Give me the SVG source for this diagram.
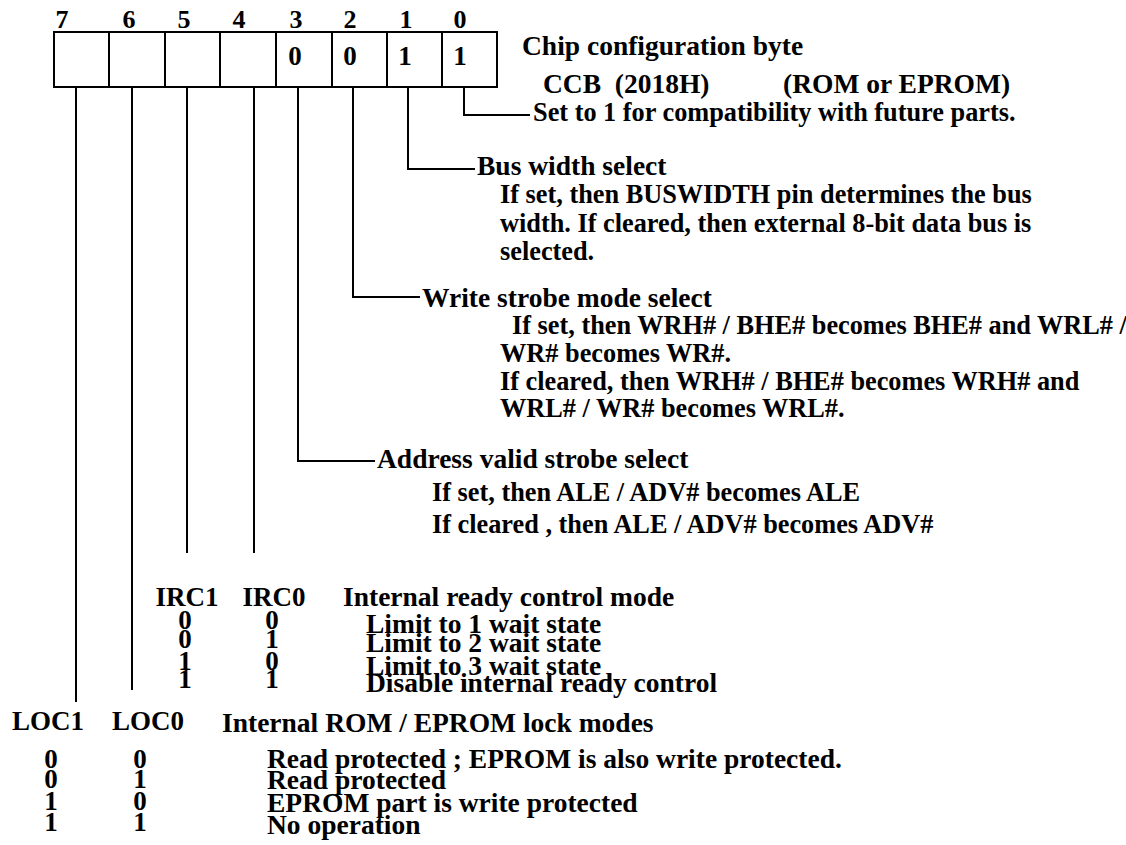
<svg xmlns="http://www.w3.org/2000/svg" width="1126" height="845" viewBox="0 0 1126 845">
<style>
text{font-family:"Liberation Serif","Times New Roman",serif;font-weight:bold;fill:#000}
.bn{font-size:26px;text-anchor:middle}
.bv{font-size:27px;text-anchor:middle}
.h{font-size:27.5px}
.p{font-size:26.3px}
.l{font-size:27.5px}
.c{font-size:27px;text-anchor:middle}
.cell{fill:none;stroke:#000;stroke-width:2}
.cn{fill:none;stroke:#000;stroke-width:2}
</style>
<rect width="1126" height="845" fill="#fff"/>
<g id="register">
<rect class="cell" x="54" y="32" width="443" height="55"/>
<path class="cell" d="M109 32V87M165 32V87M220 32V87M276 32V87M332 32V87M387 32V87M442 32V87"/>
<text class="bn" x="62" y="28">7</text>
<text class="bn" x="129" y="28">6</text>
<text class="bn" x="184" y="28">5</text>
<text class="bn" x="239" y="28">4</text>
<text class="bn" x="296" y="28">3</text>
<text class="bn" x="350" y="28">2</text>
<text class="bn" x="406" y="28">1</text>
<text class="bn" x="460" y="28">0</text>
<text class="bv" x="295" y="65">0</text>
<text class="bv" x="350" y="65">0</text>
<text class="bv" x="405" y="65">1</text>
<text class="bv" x="460" y="65">1</text>
</g>
<g id="title">
<text class="h" x="522" y="55">Chip configuration byte</text>
<text class="h" x="543" y="93" xml:space="preserve">CCB  (2018H)</text>
<text class="h" x="783" y="93">(ROM or EPROM)</text>
</g>
<g id="connectors">
<path class="cn" d="M464 87V115H530"/>
<path class="cn" d="M408 87V169H475"/>
<path class="cn" d="M353 87V297H420"/>
<path class="cn" d="M298 87V461H375"/>
<path class="cn" d="M254 87V553"/>
<path class="cn" d="M187 87V553"/>
<path class="cn" d="M132 87V690"/>
<path class="cn" d="M76 87V702"/>
</g>
<g id="bit0">
<text class="p" x="533" y="121">Set to 1 for compatibility with future parts.</text>
</g>
<g id="bit1">
<text class="h" x="477" y="175">Bus width select</text>
<text class="p" x="500" y="203">If set, then BUSWIDTH pin determines the bus</text>
<text class="p" x="500" y="232">width. If cleared, then external 8-bit data bus is</text>
<text class="p" x="500" y="260">selected.</text>
</g>
<g id="bit2">
<text class="h" x="422" y="307">Write strobe mode select</text>
<text class="p" x="512" y="334">If set, then WRH# / BHE# becomes BHE# and WRL# /</text>
<text class="p" x="500" y="362">WR# becomes WR#.</text>
<text class="p" x="500" y="390">If cleared, then WRH# / BHE# becomes WRH# and</text>
<text class="p" x="500" y="417">WRL# / WR# becomes WRL#.</text>
</g>
<g id="bit3">
<text class="h" x="377" y="468">Address valid strobe select</text>
<text class="p" x="432" y="501">If set, then ALE / ADV# becomes ALE</text>
<text class="p" x="432" y="533">If cleared , then ALE / ADV# becomes ADV#</text>
</g>
<g id="irc">
<text class="c" x="187" y="606">IRC1</text>
<text class="c" x="274" y="606">IRC0</text>
<text class="l" x="343" y="606">Internal ready control mode</text>
<text class="c" x="185" y="629">0</text><text class="c" x="272" y="629">0</text>
<text class="c" x="185" y="648">0</text><text class="c" x="272" y="648">1</text>
<text class="c" x="185" y="670">1</text><text class="c" x="272" y="670">0</text>
<text class="c" x="185" y="688">1</text><text class="c" x="272" y="688">1</text>
<text class="l" x="366" y="633">Limit to 1 wait state</text>
<text class="l" x="366" y="652">Limit to 2 wait state</text>
<text class="l" x="366" y="675">Limit to 3 wait state</text>
<text class="l" x="366" y="692">Disable internal ready control</text>
</g>
<g id="loc">
<text class="c" x="48" y="730">LOC1</text>
<text class="c" x="148" y="730">LOC0</text>
<text class="l" x="222" y="732">Internal ROM / EPROM lock modes</text>
<text class="c" x="51" y="768">0</text><text class="c" x="140" y="768">0</text>
<text class="c" x="51" y="788">0</text><text class="c" x="140" y="788">1</text>
<text class="c" x="51" y="810">1</text><text class="c" x="140" y="810">0</text>
<text class="c" x="51" y="831">1</text><text class="c" x="140" y="831">1</text>
<text class="l" x="267" y="768">Read protected ; EPROM is also write protected.</text>
<text class="l" x="267" y="789">Read protected</text>
<text class="l" x="267" y="812">EPROM part is write protected</text>
<text class="l" x="267" y="834">No operation</text>
</g>
</svg>
